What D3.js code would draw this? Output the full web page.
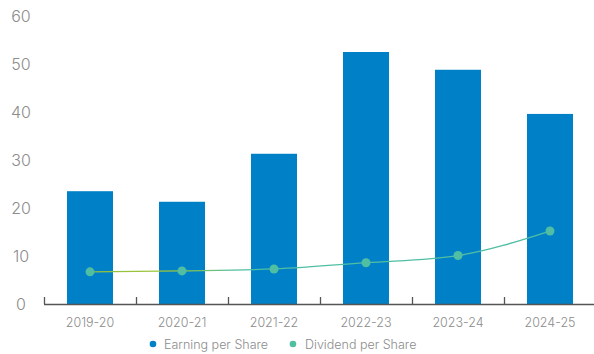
<!DOCTYPE html>
<html>
<head>
<meta charset="utf-8">
<script src="https://cdn.jsdelivr.net/npm/d3@7/dist/d3.min.js"></script>
<style>
  html, body { margin: 0; padding: 0; background: #fff; }
  svg { display: block; font-family: "Inter", "Lato", sans-serif; }
</style>
</head>
<body>
<svg id="chart" width="594" height="354"></svg>
<script>
// Per-share figures by fiscal year
const years = ["2019-20", "2020-21", "2021-22", "2022-23", "2023-24", "2024-25"];
const earningPerShare = [23.5, 21.3, 31.3, 52.5, 48.8, 39.6];
const dividendPerShare = [6.7, 6.9, 7.3, 8.6, 10.1, 15.2];
const yTicks = [0, 10, 20, 30, 40, 50, 60];
const legendLabels = ["Earning per Share", "Dividend per Share"];

const barColor = "#0080c6";
const dotColor = "#50bea3";
const textColor = "#8c8c8c";

const svg = d3.select("#chart");

const x = d3.scaleBand()
  .domain(years)
  .range([44, 596])
  .paddingInner(0.5)
  .paddingOuter(0.25);

const y = d3.scaleLinear()
  .domain([0, 60])
  .range([304, 16]);

// y-axis labels (no axis line)
svg.append("g")
  .selectAll("text")
  .data(yTicks)
  .join("text")
  .attr("x", 21)
  .attr("y", d => y(d))
  .attr("dy", "0.36em")
  .attr("text-anchor", "middle")
  .attr("fill", textColor)
  .attr("font-size", 16)
  .attr("font-weight", 300)
  .text(d => d);

// bars
svg.append("g")
  .selectAll("rect")
  .data(years.map((yr, i) => ({ yr, v: earningPerShare[i] })))
  .join("rect")
  .attr("x", d => x(d.yr))
  .attr("y", d => y(d.v))
  .attr("width", x.bandwidth())
  .attr("height", d => y(0) - y(d.v))
  .attr("fill", barColor);

// x-axis baseline with ticks at band edges
const axisG = svg.append("g");
axisG.append("line")
  .attr("x1", 44).attr("x2", 594)
  .attr("y1", y(0) + 0.5).attr("y2", y(0) + 0.5)
  .attr("stroke", "#555").attr("stroke-width", 1.3);
axisG.selectAll("line.tick")
  .data(years)
  .join("line")
  .attr("class", "tick")
  .attr("x1", d => x(d) - x.step() * 0.25 + 0.5)
  .attr("x2", d => x(d) - x.step() * 0.25 + 0.5)
  .attr("y1", y(0) - 7)
  .attr("y2", y(0))
  .attr("stroke", "#555")
  .attr("stroke-width", 1.3);
axisG.selectAll("text")
  .data(years)
  .join("text")
  .attr("x", d => x(d) + x.bandwidth() / 2)
  .attr("y", 327)
  .attr("text-anchor", "middle")
  .attr("fill", textColor)
  .attr("font-size", 12.5)
  .attr("font-weight", 300)
  .text(d => d);

// dividend line with gradient stroke
const defs = svg.append("defs");
const grad = defs.append("linearGradient")
  .attr("id", "divGrad")
  .attr("gradientUnits", "userSpaceOnUse")
  .attr("x1", x(years[0]) + x.bandwidth() / 2)
  .attr("x2", x(years[5]) + x.bandwidth() / 2)
  .attr("y1", 0).attr("y2", 0);
grad.append("stop").attr("offset", "0%").attr("stop-color", "#95c23d");
grad.append("stop").attr("offset", "18%").attr("stop-color", "#9cc53a");
grad.append("stop").attr("offset", "32%").attr("stop-color", "#50bea3");
grad.append("stop").attr("offset", "100%").attr("stop-color", "#50bea3");

const pts = years.map((yr, i) => [x(yr) + x.bandwidth() / 2, y(dividendPerShare[i])]);

svg.append("path")
  .attr("d", d3.line().curve(d3.curveMonotoneX)(pts))
  .attr("fill", "none")
  .attr("stroke", "url(#divGrad)")
  .attr("stroke-width", 1.3);

svg.append("g")
  .selectAll("circle")
  .data(pts)
  .join("circle")
  .attr("cx", d => d[0])
  .attr("cy", d => d[1])
  .attr("r", 4.5)
  .attr("fill", dotColor);

// legend
const legend = svg.append("g");
const legendItems = [
  { label: legendLabels[0], color: barColor, cx: 153, tx: 164 },
  { label: legendLabels[1], color: dotColor, cx: 293, tx: 305 }
];
legendItems.forEach(it => {
  legend.append("circle")
    .attr("cx", it.cx).attr("cy", 344).attr("r", 3.3)
    .attr("fill", it.color);
  legend.append("text")
    .attr("x", it.tx).attr("y", 348.5)
    .attr("fill", textColor)
    .attr("font-size", 12.5)
    .attr("font-weight", 300)
    .text(it.label);
});
</script>
</body>
</html>
